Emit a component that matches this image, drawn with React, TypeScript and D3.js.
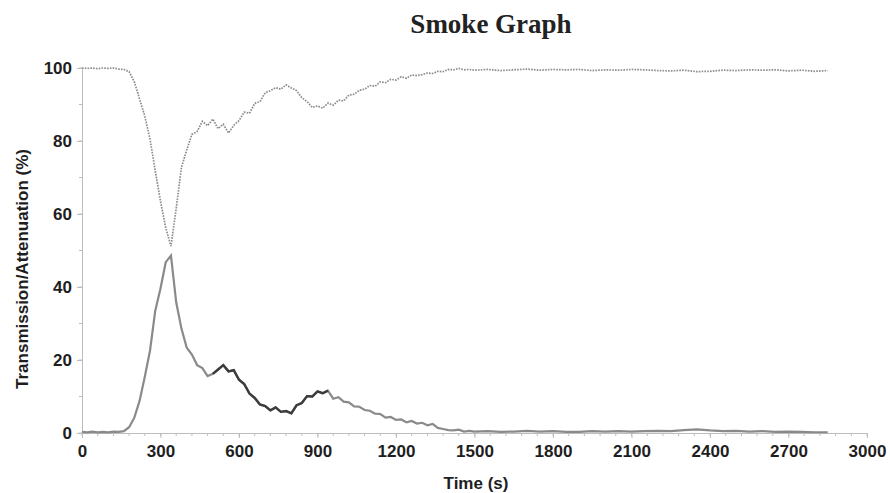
import React, { useEffect, useRef } from 'react';
import * as d3 from 'd3';

// sample times (s)
const times = [
  0, 20, 40, 60, 80, 100, 120, 140, 160, 180, 200, 220, 240, 260, 280, 300, 320, 340, 360, 380,
  400, 420, 440, 460, 480, 500, 520, 540, 560, 580, 600, 620, 640, 660, 680, 700, 720, 740, 760, 780,
  800, 820, 840, 860, 880, 900, 920, 940, 960, 980, 1000, 1020, 1040, 1060, 1080, 1100, 1120, 1140, 1160, 1180,
  1200, 1220, 1240, 1260, 1280, 1300, 1320, 1340, 1360, 1380, 1400, 1420, 1440, 1460, 1480, 1500,
  1550, 1600, 1650, 1700, 1750, 1800, 1850, 1900, 1950, 2000, 2050, 2100, 2150, 2200, 2250, 2300, 2350, 2400,
  2450, 2500, 2550, 2600, 2650, 2700, 2750, 2800, 2850,
];

// transmission (%) - dotted trace
const transmission = [
  100, 99.9, 100, 99.8, 100, 99.9, 100, 99.7, 99.6, 99.0, 96.2, 91.5, 86.8, 80.5, 71.8, 63.5, 56.2, 51.2, 61.5, 72.8,
  77.5, 81.8, 82.6, 85.4, 84.2, 86.0, 83.4, 84.6, 82.2, 84.3, 85.6, 87.9, 87.6, 90.3, 90.8, 93.2, 93.8, 94.6, 94.2, 95.4,
  94.5, 93.8, 91.9, 90.8, 89.2, 89.6, 89.0, 90.4, 89.8, 91.2, 91.0, 92.6, 92.8, 93.9, 94.2, 95.2, 95.0, 96.2, 96.0, 96.9,
  96.7, 97.6, 97.2, 98.1, 97.9, 98.2, 98.6, 98.5, 99.1, 99.0, 99.6, 99.5, 99.9, 99.5, 99.6, 99.4,
  99.6, 99.3, 99.5, 99.7, 99.4, 99.6, 99.5, 99.6, 99.3, 99.5, 99.4, 99.6, 99.5, 99.3, 99.2, 99.4, 99.0, 99.1,
  99.4, 99.3, 99.5, 99.4, 99.5, 99.2, 99.4, 99.1, 99.3,
];

// attenuation (%) - solid trace
const attenuation = [
  0.3, 0.2, 0.4, 0.2, 0.3, 0.2, 0.4, 0.3, 0.5, 1.6, 4.2, 8.8, 15.4, 22.6, 33.5, 39.6, 46.8, 48.6, 35.8, 28.6,
  23.4, 21.5, 18.6, 17.8, 15.6, 16.2, 17.4, 18.6, 16.9, 17.2, 14.6, 13.4, 10.8, 9.6, 7.8, 7.4, 6.2, 7.0, 5.8, 6.0,
  5.4, 7.6, 8.2, 10.1, 10.0, 11.4, 10.9, 11.6, 9.4, 9.8, 8.6, 8.4, 7.3, 7.2, 6.3, 6.1, 5.3, 5.2, 4.2, 4.4,
  3.6, 3.7, 2.9, 3.3, 2.6, 2.8, 2.1, 2.5, 1.4, 1.1, 0.8, 0.7, 0.9, 0.4, 0.6, 0.4,
  0.5, 0.3, 0.4, 0.6, 0.4, 0.5, 0.3, 0.3, 0.5, 0.4, 0.5, 0.4, 0.5, 0.6, 0.5, 0.8, 1.0, 0.7,
  0.5, 0.6, 0.4, 0.5, 0.3, 0.4, 0.3, 0.2, 0.2,
];

const xTicks = [0, 300, 600, 900, 1200, 1500, 1800, 2100, 2400, 2700, 3000];
const yTicks = [0, 20, 40, 60, 80, 100];

const WIDTH = 890;
const HEIGHT = 493;

const SmokeGraph: React.FC = () => {
  const svgRef = useRef<SVGSVGElement>(null);

  useEffect(() => {
    if (!svgRef.current) return;
    document.body.style.margin = '0';

    const svg = d3.select(svgRef.current);
    svg.selectAll('*').remove();

    const x = d3.scaleLinear().domain([0, 3000]).range([82, 867]);
    const y = d3.scaleLinear().domain([0, 100]).range([433, 68]);
    const axisColor = '#bdbdbd';
    const font = 'Liberation Sans, Arial, sans-serif';

    // minor ticks
    const g = svg.append('g');
    g.selectAll('line.xminor')
      .data(d3.range(0, 3001, 60))
      .join('line')
      .attr('x1', d => x(d)).attr('x2', d => x(d))
      .attr('y1', y(0)).attr('y2', y(0) + 3)
      .attr('stroke', axisColor);
    g.selectAll('line.yminor')
      .data(d3.range(0, 101, 10))
      .join('line')
      .attr('x1', x(0) - 3).attr('x2', x(0))
      .attr('y1', d => y(d)).attr('y2', d => y(d))
      .attr('stroke', axisColor);

    // axes
    const xAxis = svg.append('g')
      .attr('transform', `translate(0,${y(0)})`)
      .call(d3.axisBottom(x).tickValues(xTicks).tickSize(5).tickPadding(7).tickFormat(d3.format('d')));
    const yAxis = svg.append('g')
      .attr('transform', `translate(${x(0)},0)`)
      .call(d3.axisLeft(y).tickValues(yTicks).tickSize(5).tickPadding(5).tickFormat(d3.format('d')));

    [xAxis, yAxis].forEach(a => {
      a.select('.domain').attr('stroke', axisColor);
      a.selectAll('.tick line').attr('stroke', axisColor);
      a.selectAll('text')
        .attr('font-family', font)
        .attr('font-size', '17px')
        .attr('font-weight', 'bold')
        .attr('fill', '#1e1e1e');
    });

    const data = times.map((t, i) => ({ t, tr: transmission[i], at: attenuation[i] }));

    const lineTr = d3.line<typeof data[0]>().x(d => x(d.t)).y(d => y(d.tr));
    const lineAt = d3.line<typeof data[0]>().x(d => x(d.t)).y(d => y(d.at));

    svg.append('path')
      .datum(data)
      .attr('d', lineTr)
      .attr('fill', 'none')
      .attr('stroke', '#8c8c8c')
      .attr('stroke-width', 1.7)
      .attr('stroke-dasharray', '1.6,1.2');

    svg.append('path')
      .datum(data)
      .attr('d', lineAt)
      .attr('fill', 'none')
      .attr('stroke', '#8a8a8a')
      .attr('stroke-width', 2.2);

    // darker stretch of the attenuation trace
    svg.append('path')
      .datum(data.filter(d => d.t >= 500 && d.t <= 950))
      .attr('d', lineAt)
      .attr('fill', 'none')
      .attr('stroke', '#3c3c3c')
      .attr('stroke-width', 2.4);

    // title & labels
    svg.append('text')
      .attr('x', 491).attr('y', 33)
      .attr('text-anchor', 'middle')
      .attr('font-family', 'Liberation Serif, Times New Roman, serif')
      .attr('font-weight', 'bold')
      .attr('font-size', '27px')
      .attr('fill', '#222')
      .text('Smoke Graph');

    svg.append('text')
      .attr('x', 476).attr('y', 489)
      .attr('text-anchor', 'middle')
      .attr('font-family', font)
      .attr('font-weight', 'bold')
      .attr('font-size', '17px')
      .attr('fill', '#1e1e1e')
      .text('Time (s)');

    svg.append('text')
      .attr('transform', 'translate(28,269) rotate(-90)')
      .attr('text-anchor', 'middle')
      .attr('font-family', font)
      .attr('font-weight', 'bold')
      .attr('font-size', '17px')
      .attr('fill', '#1e1e1e')
      .text('Transmission/Attenuation (%)');
  }, []);

  return <svg ref={svgRef} width={WIDTH} height={HEIGHT} style={{ display: 'block', background: '#fff' }} />;
};

export default function App() {
  return <SmokeGraph />;
}
